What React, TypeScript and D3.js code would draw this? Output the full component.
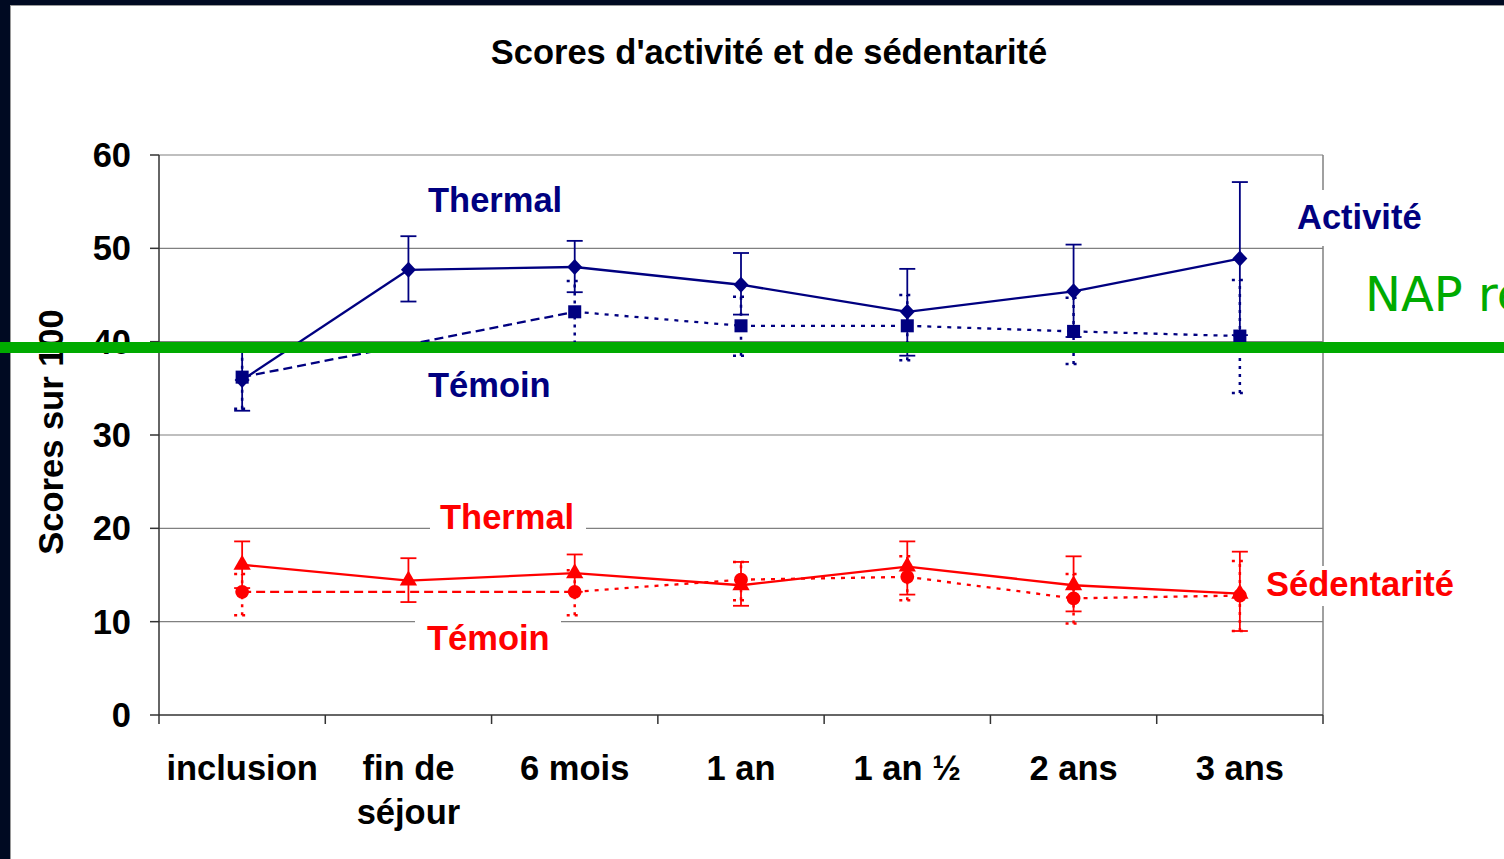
import React from "react";
import * as d3 from "d3";

// categories and values
const categories = ["inclusion", "fin de séjour", "6 mois", "1 an", "1 an ½", "2 ans", "3 ans"];
const categoryLines = [["inclusion"], ["fin de", "séjour"], ["6 mois"], ["1 an"], ["1 an ½"], ["2 ans"], ["3 ans"]];
const yTicks = [0, 10, 20, 30, 40, 50, 60];

const actThermal = [35.9, 47.7, 48.0, 46.1, 43.2, 45.4, 48.9];
const actThermalHigh = [39.2, 51.3, 50.8, 49.5, 47.8, 50.4, 57.1];
const actThermalLow = [32.6, 44.3, 45.3, 42.9, 38.5, 40.5, 40.7];

const actTemoin = [36.2, null, 43.2, 41.7, 41.7, 41.1, 40.6];
const actTemoinHigh = [39.7, null, 46.5, 44.8, 45.0, 44.7, 46.6];
const actTemoinLow = [32.8, null, 39.8, 38.5, 38.0, 37.6, 34.5];

const sedThermal = [16.1, 14.4, 15.2, 13.9, 15.9, 13.9, 13.0];
const sedThermalHigh = [18.6, 16.8, 17.2, 16.4, 18.6, 17.0, 17.5];
const sedThermalLow = [13.6, 12.1, 13.2, 11.7, 12.9, 11.1, 9.0];

const sedTemoin = [13.2, null, 13.2, 14.5, 14.8, 12.5, 12.8];
const sedTemoinHigh = [15.1, null, 15.5, 16.4, 17.0, 15.1, 16.5];
const sedTemoinLow = [10.7, null, 10.7, 12.3, 12.3, 9.8, 9.0];

const NAVY = "#000080";
const RED = "#ff0000";
const GREEN = "#00aa00";
const FONT = "'Liberation Sans', Arial, sans-serif";
const FS = 34.5;

const W = 1504;
const H = 859;

const x = d3.scaleBand<string>().domain(categories).range([159, 1323]);
const y = d3.scaleLinear().domain([0, 60]).range([715, 155]);
const cx = (i: number) => (x(categories[i]) as number) + x.bandwidth() / 2;

function marker(kind: string, px: number, py: number, color: string, key: string) {
  if (kind === "diamond") {
    const d = `M${px},${py - 8}L${px + 7.5},${py}L${px},${py + 8}L${px - 7.5},${py}Z`;
    return <path key={key} d={d} fill={color} />;
  }
  const type = kind === "square" ? d3.symbolSquare : kind === "triangle" ? d3.symbolTriangle : d3.symbolCircle;
  const size = kind === "square" ? 170 : kind === "triangle" ? 130 : 150;
  const d = d3.symbol().type(type).size(size)() as string;
  return <path key={key} d={d} transform={`translate(${px},${py})`} fill={color} />;
}

function Series(props: {
  id: string;
  values: (number | null)[];
  high: (number | null)[];
  low: (number | null)[];
  color: string;
  kind: string;
  control: boolean;
}) {
  const { id, values, high, low, color, kind, control } = props;
  const pts = values
    .map((v, i) => (v == null ? null : { i, v }))
    .filter((p) => p != null) as { i: number; v: number }[];
  const line = d3
    .line<{ i: number; v: number }>()
    .x((p) => cx(p.i))
    .y((p) => y(p.v));
  const segs = [];
  for (let k = 0; k < pts.length - 1; k++) {
    const dash = control ? (k === 0 ? "9,5" : "4,6") : undefined;
    segs.push(
      <path
        key={`${id}-s${k}`}
        d={line([pts[k], pts[k + 1]]) as string}
        fill="none"
        stroke={color}
        strokeWidth={2.3}
        strokeDasharray={dash}
      />
    );
  }
  const bars = values.map((v, i) => {
    const hi = high[i];
    const lo = low[i];
    if (v == null || hi == null || lo == null) return null;
    const dash = control ? "3,5" : undefined;
    const px = cx(i);
    return (
      <g key={`${id}-e${i}`} stroke={color} strokeWidth={control ? 2.5 : 1.8} strokeDasharray={dash}>
        <line x1={px} x2={px} y1={y(lo)} y2={y(hi)} />
        <line x1={px - 8} x2={px + 8} y1={y(hi)} y2={y(hi)} />
        <line x1={px - 8} x2={px + 8} y1={y(lo)} y2={y(lo)} />
      </g>
    );
  });
  return (
    <g>
      {bars}
      {segs}
      {pts.map((p) => marker(kind, cx(p.i), y(p.v), color, `${id}-m${p.i}`))}
    </g>
  );
}

export default function App() {
  const left = 159;
  const right = 1323;
  return (
    <svg
      width={W}
      height={H}
      style={{ position: "absolute", left: 0, top: 0, background: "#fff" }}
      fontFamily={FONT}
      fontWeight="bold"
    >
      {/* dark slide frame */}
      <rect x={0} y={0} width={W} height={5} fill="#000a22" />
      <rect x={0} y={0} width={10} height={H} fill="#000a22" />
      <line x1={10} x2={W} y1={5.5} y2={5.5} stroke="#9a9a9a" />
      <line x1={10.5} x2={10.5} y1={5} y2={H} stroke="#9a9a9a" />

      <text x={769} y={64} textAnchor="middle" fontSize={FS} fill="#000">
        Scores d'activité et de sédentarité
      </text>

      {/* gridlines */}
      {yTicks.slice(1).map((t) => (
        <line key={`g${t}`} x1={left} x2={right} y1={y(t)} y2={y(t)} stroke="#808080" strokeWidth={1.2} />
      ))}
      <line x1={right} x2={right} y1={y(60)} y2={y(0)} stroke="#808080" strokeWidth={1.5} />

      {/* label boxes that hide the grid */}
      <rect x={1287} y={190} width={140} height={56} fill="#fff" />
      <rect x={430} y={505} width={156} height={34} fill="#fff" />
      <rect x={415} y={612} width={146} height={30} fill="#fff" />
      <rect x={1258} y={566} width={204} height={40} fill="#fff" />

      {/* axes */}
      <line x1={left} x2={left} y1={y(60)} y2={y(0)} stroke="#333" strokeWidth={1.5} />
      <line x1={left} x2={right} y1={y(0)} y2={y(0)} stroke="#333" strokeWidth={1.5} />
      {yTicks.map((t) => (
        <g key={`yt${t}`}>
          <line x1={left - 9} x2={left} y1={y(t)} y2={y(t)} stroke="#333" strokeWidth={1.5} />
          <text x={131} y={y(t) + 12} textAnchor="end" fontSize={FS} fill="#000">
            {t}
          </text>
        </g>
      ))}
      {d3.range(categories.length + 1).map((i) => {
        const px = i < categories.length ? (x(categories[i]) as number) : right;
        return <line key={`xt${i}`} x1={px} x2={px} y1={y(0)} y2={y(0) + 9} stroke="#333" strokeWidth={1.5} />;
      })}
      {categoryLines.map((lines, i) => (
        <text key={`xl${i}`} textAnchor="middle" fontSize={FS} fill="#000">
          {lines.map((l, j) => (
            <tspan key={j} x={cx(i)} y={780 + j * 44}>
              {l}
            </tspan>
          ))}
        </text>
      ))}
      <text transform="translate(63,432) rotate(-90)" textAnchor="middle" fontSize={FS} fill="#000">
        Scores sur 100
      </text>

      {/* series */}
      <Series id="at" values={actThermal} high={actThermalHigh} low={actThermalLow} color={NAVY} kind="diamond" control={false} />
      <Series id="ac" values={actTemoin} high={actTemoinHigh} low={actTemoinLow} color={NAVY} kind="square" control={true} />
      <Series id="st" values={sedThermal} high={sedThermalHigh} low={sedThermalLow} color={RED} kind="triangle" control={false} />
      <Series id="sc" values={sedTemoin} high={sedTemoinHigh} low={sedTemoinLow} color={RED} kind="circle" control={true} />

      {/* series labels */}
      <text x={428} y={212} fontSize={FS} fill={NAVY}>Thermal</text>
      <text x={428} y={397} fontSize={FS} fill={NAVY}>Témoin</text>
      <text x={1297} y={229} fontSize={FS} fill={NAVY}>Activité</text>
      <text x={440} y={529} fontSize={FS} fill={RED}>Thermal</text>
      <text x={427} y={650} fontSize={FS} fill={RED}>Témoin</text>
      <text x={1266} y={596} fontSize={FS} fill={RED}>Sédentarité</text>

      {/* green overlay */}
      <rect x={0} y={342} width={W} height={11} fill={GREEN} />
      <text x={1365} y={311} fontSize={48} fontWeight="normal" fill={GREEN} fontFamily="'Comic Sans MS', 'DejaVu Sans', sans-serif">
        NAP re
      </text>
    </svg>
  );
}
